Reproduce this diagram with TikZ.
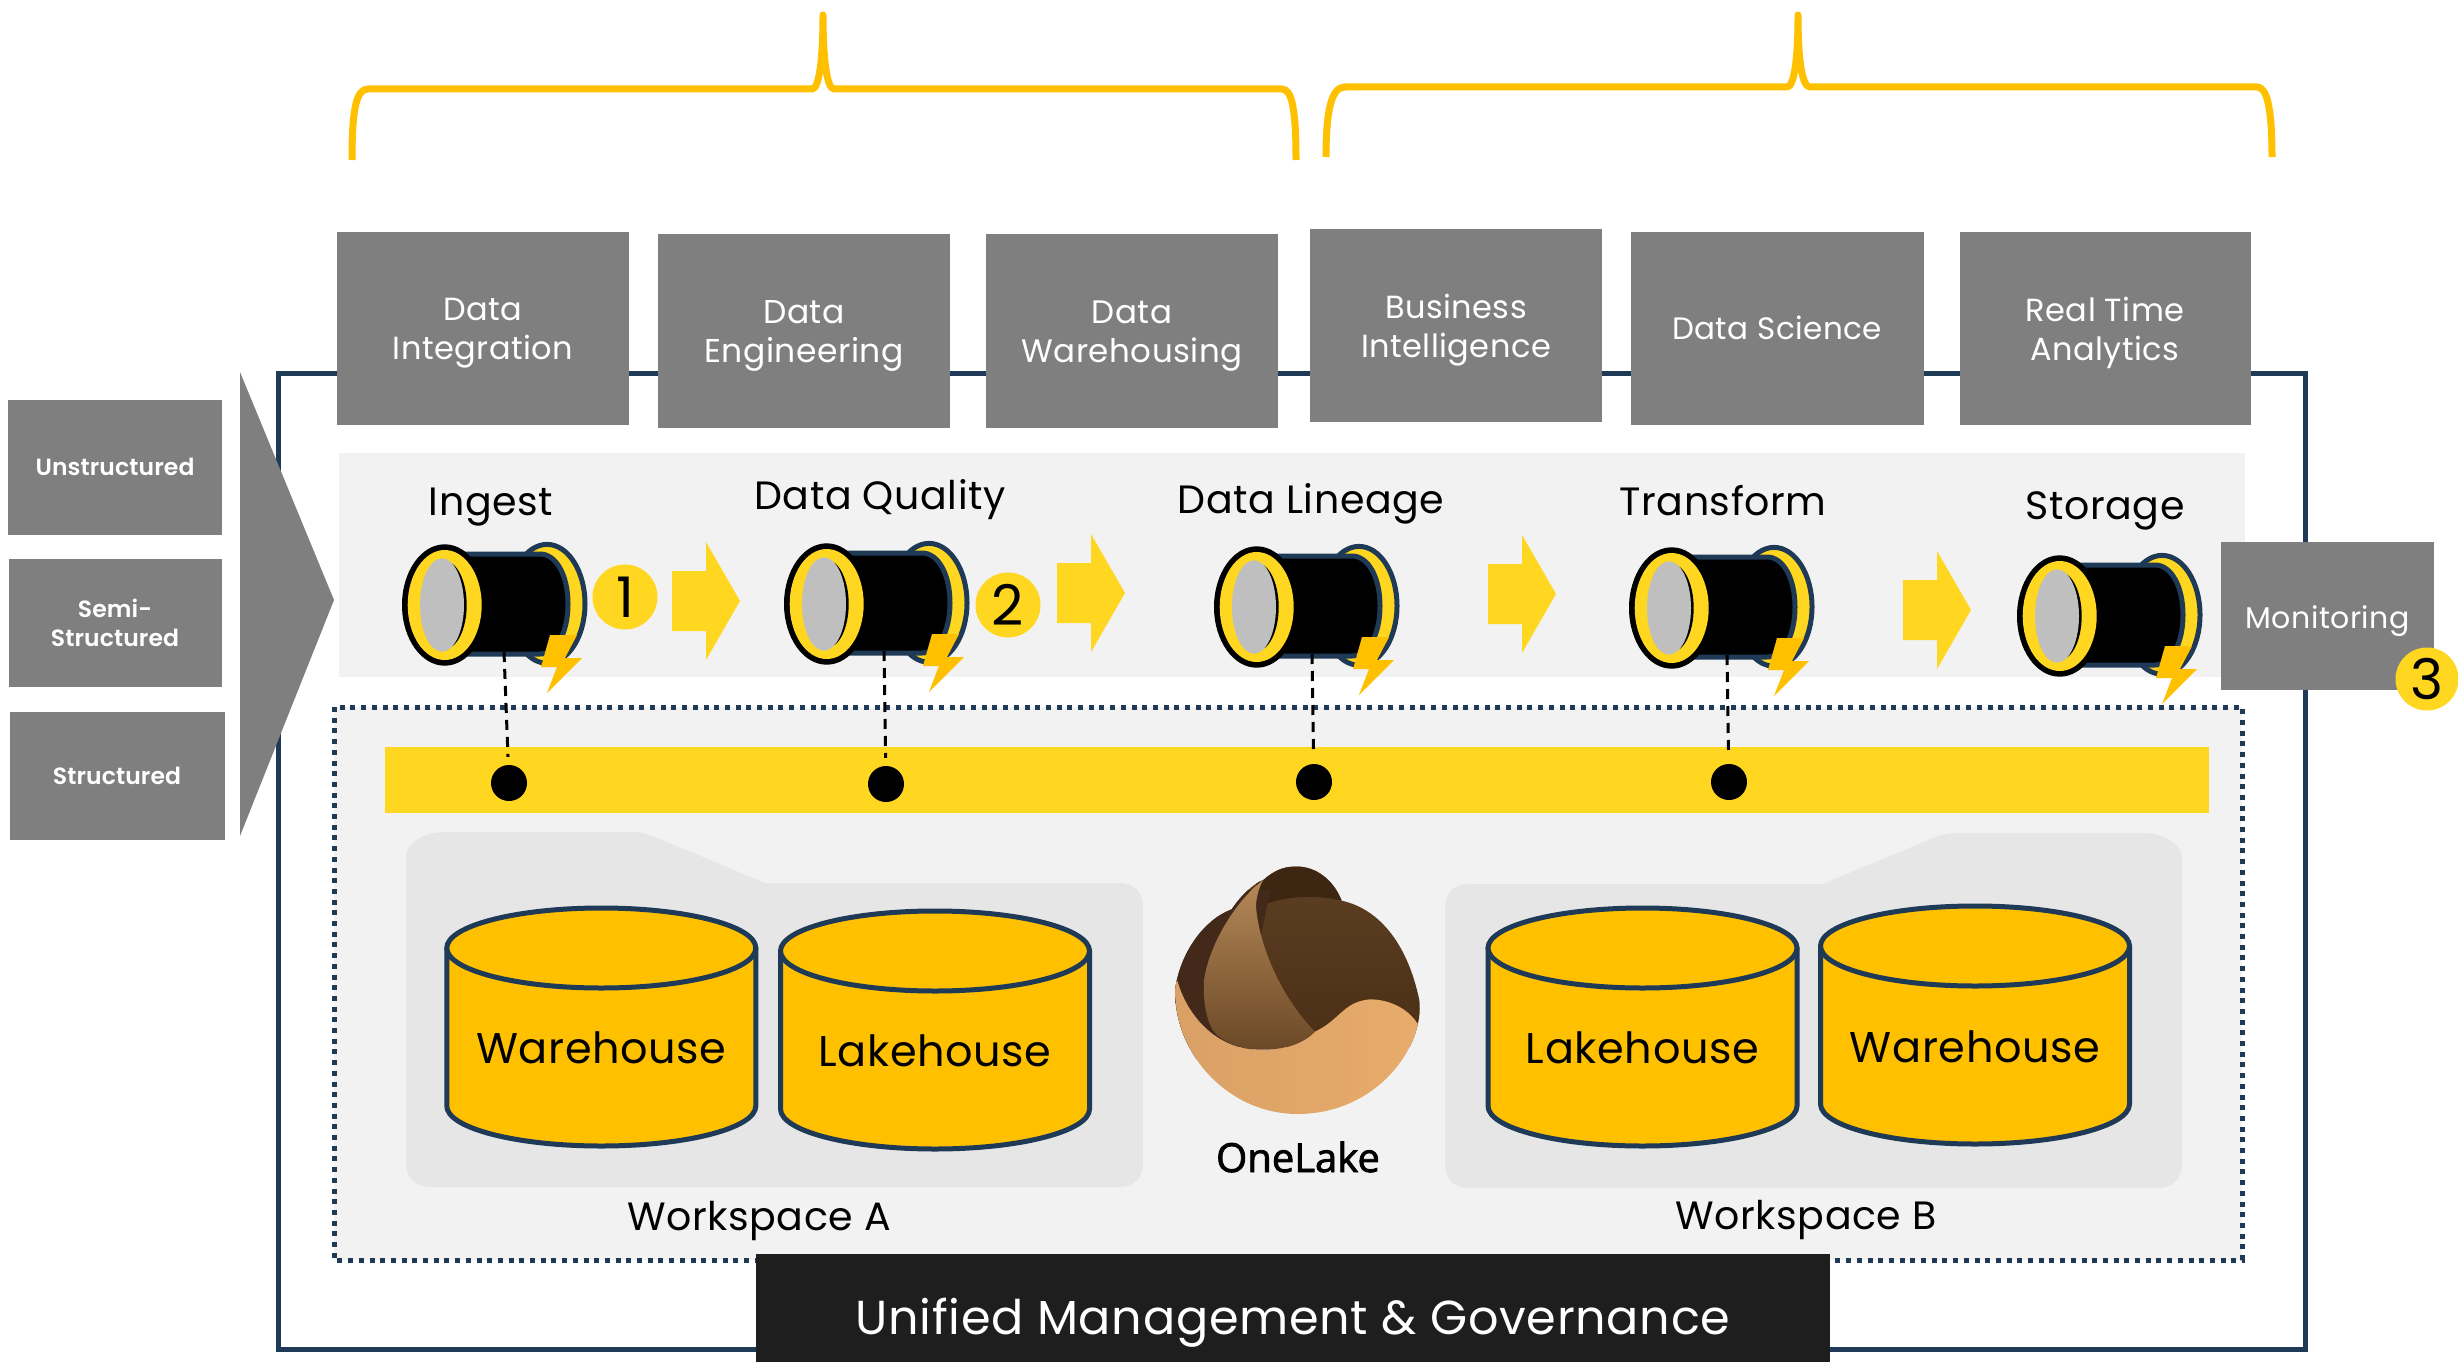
\documentclass[tikz,border=0pt]{standalone}
\usepackage{fontspec}
\setmainfont[LetterSpace=1.5]{Poppins}
\newfontfamily\logofont[FakeBold=2]{Open Sans}
\newfontfamily\semib[LetterSpace=0.5]{Poppins SemiBold}
\definecolor{navy}{HTML}{1F3A56}
\definecolor{gbox}{HTML}{7F7F7F}
\definecolor{band}{HTML}{F2F2F2}
\definecolor{wsgray}{HTML}{E6E6E6}
\definecolor{ylw}{HTML}{FFD720}
\definecolor{amber}{HTML}{FFC000}
\definecolor{tubegray}{HTML}{BFBFBF}
\definecolor{mgmt}{HTML}{1E1E1E}
\definecolor{tanA}{HTML}{D9A066}
\definecolor{tanB}{HTML}{E8AC6B}
\definecolor{brLeft}{HTML}{42291A}
\definecolor{brMidA}{HTML}{B58858}
\definecolor{brMidB}{HTML}{6A4826}
\definecolor{brMain}{HTML}{5F4023}
\definecolor{brMainB}{HTML}{4A2F16}
\definecolor{brKnob}{HTML}{3D2713}
\newcommand{\fsz}[2]{\fontsize{#1}{#2}\selectfont}
\tikzset{
  grayb/.style={fill=gbox,text=white,align=center,inner sep=0pt,font=\fsz{32}{38}},
  glabel/.style={align=center,inner sep=0pt,text=white,font=\fsz{32}{38.5},yshift=-5pt},
  srcb/.style={fill=gbox,text=white,align=center,inner sep=0pt,font=\fsz{23.5}{29}\semib},
  steplabel/.style={inner sep=0pt,font=\fsz{39.5}{46},text=black,text height=27pt,text depth=9pt},
  wslabel/.style={inner sep=0pt,font=\fsz{39.5}{46},text=black},
  cyllabel/.style={inner sep=0pt,font=\fsz{43}{52},text=black},
  numc/.style={circle,fill=ylw,inner sep=0pt,minimum size=65pt,text=black,font=\fsz{56}{60}},
  dotc/.style={circle,fill=black,inner sep=0pt,minimum size=36pt},
  brace/.style={draw=amber,line width=7pt,line join=round},
  dashline/.style={draw=black,line width=3pt,dash pattern=on 10pt off 7pt,shorten >=8pt},
}
\newcommand{\tube}[4]{%
  \begin{scope}[shift={(#2,#3)}]
    \filldraw[fill=ylw,draw=navy,line width=5pt] (105,-1.2) ellipse [x radius=38pt,y radius=59.4pt];
    \filldraw[fill=black,draw=navy,line width=5pt] (21,-51) -- (98,-51) .. controls (114,-51) and (126,-30) .. (126,-1) .. controls (126,28) and (114,49) .. (98,49) -- (21,49) -- cycle;
    \fill[black] (2.7,0) ellipse [x radius=42.7pt,y radius=60.7pt];
    \fill[ylw] (2.7,0) ellipse [x radius=37pt,y radius=55pt];
    \fill[black] (2.7,0) ellipse [x radius=22pt,y radius=44pt];
    \fill[tubegray] (0,0) ellipse [x radius=22pt,y radius=46.7pt];
    \fill[amber] (108,30) -- (135,30) -- (123,53) -- (140,53) -- (105,88) -- (115,62) -- (99,62) -- cycle;
    \coordinate (#1) at (#4,47);
  \end{scope}}
\newcommand{\yarrow}[2]{%
  \fill[ylw] (#1,#2-30) -- (#1+34,#2-30) -- (#1+34,#2-59) -- (#1+68,#2) -- (#1+34,#2+59) -- (#1+34,#2+30) -- (#1,#2+30) -- cycle;}
\newcommand{\cyl}[5]{%
  \filldraw[fill=amber,draw=navy,line width=5pt,line join=round] (#2-154.5,#3) -- (#2-154.5,#3+158) arc [start angle=180,end angle=360,x radius=154.5pt,y radius=40pt] -- (#2+154.5,#3) -- cycle;
  \filldraw[fill=amber,draw=navy,line width=5pt] (#2,#3) ellipse [x radius=154.5pt,y radius=40pt];
  \node[cyllabel] (#1) at (#2,#5) {#4};}
\newcommand{\wsshape}{\fill[wsgray] (406,858) .. controls (406,842) and (425,832) .. (445,832) -- (632,832) .. controls (640,832) and (648,834) .. (655,837) -- (765,883) -- (1118,883) .. controls (1135,883) and (1143,892) .. (1143,908) -- (1143,1162) .. controls (1143,1178) and (1135,1187) .. (1118,1187) -- (431,1187) .. controls (415,1187) and (406,1178) .. (406,1162) -- cycle;}
\begin{document}
\begin{tikzpicture}[x=1pt,y=-1pt]
\useasboundingbox (0,0) rectangle (2458,1362);
\fill[white] (0,0) rectangle (2458,1362);
% braces
\draw[brace] (352,160) .. controls (352,110) and (356,89) .. (368,89) -- (812,89) .. controls (819,89) and (823,60) .. (823,15) .. controls (823,60) and (827,89) .. (834,89) -- (1282,89) .. controls (1292,89) and (1296,110) .. (1296,160);
\draw[brace] (1326,157) .. controls (1326,108) and (1332,87) .. (1345,87) -- (1787,87) .. controls (1794,87) and (1798,60) .. (1798,15) .. controls (1798,60) and (1802,87) .. (1810,87) -- (2257,87) .. controls (2267,87) and (2272,108) .. (2272,157);
% outer frame
\draw[navy,line width=5pt] (278,373) rectangle (2305,1349);
% top boxes
\node[grayb,minimum width=292pt,minimum height=193pt,label={[glabel]center:Data\\Integration}] (di) at (483,328) {};
\node[grayb,minimum width=292pt,minimum height=194pt,label={[glabel,font=\fsz{33}{38.5}]center:Data\\Engineering}] (de) at (804,331) {};
\node[grayb,minimum width=292pt,minimum height=194pt,label={[glabel,font=\fsz{32.5}{38.5}]center:Data\\Warehousing}] (dw) at (1132,331) {};
\node[grayb,minimum width=292pt,minimum height=193pt,label={[glabel]center:Business\\Intelligence}] (bi) at (1456,325) {};
\node[grayb,minimum width=293pt,minimum height=193pt,font=\fsz{31}{38}] (ds) at (1777,328) {Data Science};
\node[grayb,minimum width=291pt,minimum height=193pt,label={[glabel]center:Real Time\\Analytics}] (rt) at (2105,328) {};
% band and workspace area
\fill[band] (339,453) rectangle (2245,677);
\filldraw[fill=band,draw=navy,line width=5pt,dash pattern=on 5pt off 5.7pt] (334,707) rectangle (2242,1260);
\fill[ylw] (385,747) rectangle (2209,813);
% sources
\node[srcb,minimum width=214pt,minimum height=135pt] (un) at (115,467) {Unstructured};
\node[srcb,minimum width=213pt,minimum height=128pt] (se) at (115,623) {Semi-\\Structured};
\node[srcb,minimum width=215pt,minimum height=128pt] (st) at (117,776) {Structured};
\fill[gbox] (240,372) -- (334,600) -- (240,836) -- cycle;
% workspaces
\wsshape
\begin{scope}[shift={(2588,1)},xscale=-1]
\wsshape
\end{scope}
\cyl{whA}{601.3}{948}{Warehouse}{1048}
\cyl{lhA}{935}{951}{Lakehouse}{1051}
\cyl{lhB}{1642.5}{948}{Lakehouse}{1048}
\cyl{whB}{1975}{946}{Warehouse}{1047}
\node[wslabel] (wa) at (759,1221) {Workspace A};
\node[wslabel] (wb) at (1806,1220) {Workspace B};
% OneLake logo
\begin{scope}[shift={(1130,840)},x=0.3333pt,y=-0.3333pt]
  \begin{scope}
    \clip (135,450) .. controls (150,340) and (220,240) .. (305,208) .. controls (330,170) and (370,130) .. (400,120) .. controls (440,85) and (470,78) .. (510,80) .. controls (570,85) and (615,130) .. (635,182) .. controls (740,205) and (830,300) .. (868,480) .. controls (885,620) and (740,822) .. (503,822) .. controls (300,822) and (135,650) .. (135,450) -- cycle;
    \shade[top color=brMain,bottom color=brMainB] (100,50) rectangle (900,620);
    \fill[brKnob] (350,50) -- (700,50) -- (635,182) .. controls (570,166) and (480,164) .. (400,195) -- cycle;
    \fill[brLeft] (100,150) -- (420,150) -- (320,660) -- (100,660) -- cycle;
    \shade[left color=tanA,right color=tanB] (120,400) -- (143,425) .. controls (170,520) and (250,620) .. (370,628) .. controls (460,635) and (520,610) .. (555,575) .. controls (630,540) and (640,485) .. (720,478) .. controls (770,478) and (830,500) .. (862,550) -- (900,560) -- (900,850) -- (100,850) -- cycle;
    \shade[top color=brMidA,bottom color=brMidB] (400,120) .. controls (330,170) and (240,300) .. (222,420) .. controls (218,500) and (235,560) .. (260,585) .. controls (300,615) and (340,628) .. (370,628) .. controls (460,635) and (520,610) .. (555,575) .. controls (470,490) and (390,340) .. (378,200) .. controls (378,170) and (390,135) .. (400,120) -- cycle;
  \end{scope}
\end{scope}
\node[inner sep=0pt,font=\logofont\fsz{40}{46},text=black] (ol) at (1298,1157) {OneLake};
% steps
\node[steplabel] (l1) at (491,506) {Ingest};
\node[steplabel] (l2) at (880,500) {Data Quality};
\node[steplabel] (l3) at (1311,504) {Data Lineage};
\node[steplabel] (l4) at (1723,506) {Transform};
\node[steplabel] (l5) at (2105,510) {Storage};
\node[dotc] (c1) at (509,783) {};
\node[dotc] (c2) at (886,784) {};
\node[dotc] (c3) at (1314,782) {};
\node[dotc] (c4) at (1729,782) {};
\tube{t1}{442}{605}{62}
\tube{t2}{824}{604}{60}
\tube{t3}{1254}{607}{58}
\tube{t4}{1669}{608}{58}
\tube{t5}{2057}{616}{62}
\draw[dashline] (t1) -- (c1);
\draw[dashline] (t2) -- (c2);
\draw[dashline] (t3) -- (c3);
\draw[dashline] (t4) -- (c4);
\yarrow{672}{601}
\yarrow{1057}{593}
\yarrow{1488}{594}
\yarrow{1903}{610}
\node[numc] (n1) at (625,597) {1};
\node[numc] (n2) at (1008,605) {2};
% monitoring
\node[grayb,minimum width=213pt,minimum height=148pt,label={[glabel,font=\fsz{30}{36}]center:Monitoring}] (mo) at (2327.5,616) {};
\node[numc,minimum size=63pt] (n3) at (2427,679) {3};
% management
\node[fill=mgmt,inner sep=0pt,minimum width=1074pt,minimum height=108pt,label={[text=white,inner sep=0pt,font=\fsz{47.7}{56},yshift=-15pt]center:Unified Management \& Governance}] (um) at (1293,1308) {};
\end{tikzpicture}
\end{document}
